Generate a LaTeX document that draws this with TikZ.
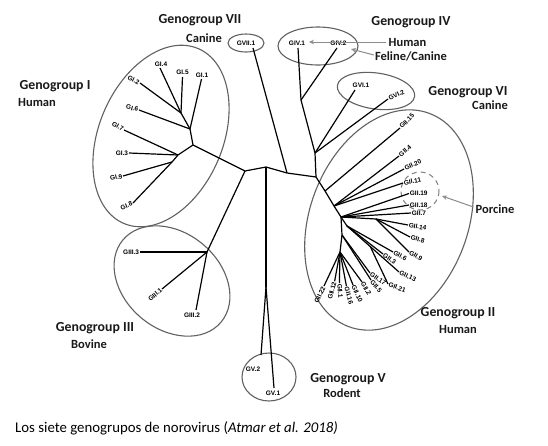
\documentclass[tikz,border=0pt]{standalone}
\usepackage{fontspec}
\setmainfont{Carlito}
\newfontfamily\labfont{Liberation Sans}
\usetikzlibrary{arrows.meta}
\begin{document}
\begin{tikzpicture}[x=1pt,y=-1pt,
  edge/.style={line width=1.2pt, black},
  grp/.style={draw=black!62, line width=1.1pt},
  leaf/.style={font=\labfont\bfseries\fontsize{6.5}{7}\selectfont, inner sep=0.7pt},
  title/.style={font=\bfseries\fontsize{13.8}{15}\selectfont, inner sep=0pt, text=black!90},
  subt/.style={font=\bfseries\fontsize{12.5}{14}\selectfont, inner sep=0pt, text=black!90},
  pointer/.style={draw=black!45, line width=1pt, -{Stealth[length=5pt,width=4.5pt]}},
  lr/.style={leaf, anchor=west},
  ll/.style={leaf, anchor=east},
]
\fill[white] (0,0) rectangle (548,445);
\useasboundingbox (0,0) rectangle (548,445);

% ---------- group outlines ----------
\draw[grp, rotate around={67:(161,136)}] (161,136) ellipse [x radius=95, y radius=62];
\draw[grp] (246,43) ellipse [x radius=18, y radius=9];
\draw[grp] (318,46) ellipse [x radius=40, y radius=19];
\draw[grp, rotate around={-8:(376,91)}] (376,91) ellipse [x radius=39, y radius=18];
\draw[grp, rotate around={69:(389,220)}] (389,220) ellipse [x radius=114, y radius=79];
\draw[grp, rotate around={-40:(172,281)}] (172,281) ellipse [x radius=64, y radius=48];
\draw[grp] (269,377) ellipse [x radius=27, y radius=24];
\draw[draw=black!50, line width=1pt, dash pattern=on 5pt off 4pt] (420,191) circle [radius=19];

% ---------- internal nodes ----------
\coordinate (A) at (245,171);
\coordinate (B) at (266,167);
\coordinate (C) at (287,173);
\coordinate (D) at (316,177);
\coordinate (E) at (315,153);
\coordinate (G4) at (301,100);
\coordinate (R1) at (193,145);
\coordinate (U1) at (190,129);
\coordinate (U2) at (181,113);
\coordinate (L1) at (178,155);
\coordinate (L2) at (172,162);
\coordinate (N3) at (207,252);
\coordinate (S5) at (266,287);
\coordinate (H1) at (325,191);
\coordinate (H3) at (334,206);
\coordinate (G0) at (341,217);
\coordinate (K1) at (376,219);
\coordinate (K2) at (347,226);
\coordinate (K4) at (370,246);
\coordinate (K3) at (342,235);
\coordinate (F) at (340,252);

% ---------- tips ----------
\coordinate (t14) at (160,68);
\coordinate (t15) at (182.5,77);
\coordinate (t11) at (201.5,79);
\coordinate (t12) at (140,83);
\coordinate (t16) at (139,110);
\coordinate (t17) at (124,130);
\coordinate (t13) at (129,153);
\coordinate (t19) at (123,176);
\coordinate (t18) at (133,203);
\coordinate (t71) at (253,48);
\coordinate (t41) at (298,48);
\coordinate (t42) at (337,48);
\coordinate (t61) at (355,90);
\coordinate (t62) at (388,99);
\coordinate (t33) at (140,252);
\coordinate (t31) at (162,289);
\coordinate (t32) at (196,310);
\coordinate (t52) at (261,355);
\coordinate (t51) at (274,388);
\coordinate (u15) at (400,128);
\coordinate (u4) at (399,156);
\coordinate (u20) at (404,169);
\coordinate (u11) at (403,183);
\coordinate (u19) at (409,193.5);
\coordinate (u18) at (409,205);
\coordinate (u7) at (411,213);
\coordinate (u14) at (408,225);
\coordinate (u8) at (410,237);
\coordinate (u9) at (409,252);
\coordinate (u6) at (393,252);
\coordinate (u3) at (383,254);
\coordinate (u13) at (399,272);
\coordinate (u21) at (388,284);
\coordinate (u17) at (370,273);
\coordinate (u5) at (371,280);
\coordinate (u2) at (362,282);
\coordinate (u10) at (353,285);
\coordinate (u16) at (346.4,286);
\coordinate (u1) at (339.4,283);
\coordinate (u12) at (334.6,281.3);
\coordinate (u22) at (324,286);

% ---------- backbone ----------
\draw[edge] (R1) -- (A) -- (B) -- (C) -- (D);
\draw[edge] (A) -- (N3);
\draw[edge] (B) -- (S5);
\draw[edge] (C) -- (t71);
\draw[edge] (D) -- (E) -- (G4);
\draw[edge] (D) -- (H1) -- (H3) -- (G0);

% GI
\draw[edge] (R1) -- (U1) -- (U2);
\draw[edge] (U2) -- (t14); \draw[edge] (U2) -- (t15); \draw[edge] (U2) -- (t12);
\draw[edge] (U1) -- (t11); \draw[edge] (U1) -- (t16);
\draw[edge] (R1) -- (L1) -- (L2);
\draw[edge] (L1) -- (t17); \draw[edge] (L1) -- (t13);
\draw[edge] (L2) -- (t19); \draw[edge] (L2) -- (t18);
% GIV, GVI
\draw[edge] (G4) -- (t41); \draw[edge] (G4) -- (t42);
\draw[edge] (E) -- (t61); \draw[edge] (E) -- (t62);
% GIII
\draw[edge] (N3) -- (t33); \draw[edge] (N3) -- (t31); \draw[edge] (N3) -- (t32);
% GV
\draw[edge] (S5) -- (t52); \draw[edge] (S5) -- (t51);
% GII
\draw[edge] (H1) -- (u15);
\draw[edge] (H3) -- (u4); \draw[edge] (H3) -- (u20); \draw[edge] (H3) -- (u11);
\draw[edge] (G0) -- (u19); \draw[edge] (G0) -- (u18); \draw[edge] (G0) -- (u7);
\draw[edge] (G0) -- (K1);
\draw[edge] (K1) -- (u14); \draw[edge] (K1) -- (u8); \draw[edge] (K1) -- (u9);
\draw[edge] (G0) -- (K2);
\draw[edge] (K2) -- (u6); \draw[edge] (K2) -- (u3); \draw[edge] (K2) -- (u13);
\draw[edge] (K4) -- (u21);
\draw[edge] (G0) -- (K3) -- (F);
\draw[edge] (K3) -- (u17); \draw[edge] (K3) -- (u5);
\foreach \t in {u2,u10,u16,u1,u12,u22} \draw[edge] (F) -- (\t);

% ---------- leaf labels ----------
\node[leaf] (lGI4) at (161,64) {GI.4};
\node[leaf] (lGI5) at (182.5,72.7) {GI.5};
\node[leaf] (lGI1) at (202,75) {GI.1};
\node[ll, rotate=-25] (lGI2) at (t12) {GI.2};
\node[ll, rotate=-15] (lGI6) at (t16) {GI.6};
\node[ll, rotate=-30] (lGI7) at (t17) {GI.7};
\node[ll] (lGI3) at (t13) {GI.3};
\node[ll, rotate=12] (lGI9) at (t19) {GI.9};
\node[ll, rotate=22] (lGI8) at (t18) {GI.8};
\node[leaf] (lGVII) at (246,43) {GVII.1};
\node[leaf] (lGIV1) at (297,43) {GIV.1};
\node[leaf] (lGIV2) at (338.5,43) {GIV.2};
\node[leaf] (lGVI1) at (361,85) {GVI.1};
\node[lr, rotate=25] (lGVI2) at (t62) {GVI.2};
\node[ll] (lGIII3) at (t33) {GIII.3};
\node[ll, rotate=40] (lGIII1) at (t31) {GIII.1};
\node[leaf] (lGIII2) at (192,315) {GIII.2};
\node[leaf] (lGV2) at (253,369) {GV.2};
\node[leaf] (lGV1) at (273,393) {GV.1};
\node[lr, rotate=45] (l15) at (u15) {GII.15};
\node[lr, rotate=40] (l4) at (u4) {GII.4};
\node[lr, rotate=25] (l20) at (u20) {GII.20};
\node[lr, rotate=10] (l11) at (u11) {GII.11};
\node[lr] (l19) at (u19) {GII.19};
\node[lr] (l18) at (u18) {GII.18};
\node[lr] (l7) at (u7) {GII.7};
\node[lr, rotate=-10] (l14) at (u14) {GII.14};
\node[lr, rotate=-15] (l8) at (u8) {GII.8};
\node[lr, rotate=-30] (l9) at (u9) {GII.9};
\node[lr, rotate=-28] (l6) at (u6) {GII.6};
\node[lr, rotate=-35] (l3) at (u3) {GII.3};
\node[lr, rotate=-25] (l13) at (u13) {GII.13};
\node[lr, rotate=-20] (l21) at (u21) {GII.21};
\node[lr, rotate=-35] (l17) at (u17) {GII.17};
\node[lr, rotate=-50] (l5) at (u5) {GII.5};
\node[lr, rotate=-60] (l2) at (u2) {GII.2};
\node[lr, rotate=-65] (l10) at (u10) {GII.10};
\node[lr, rotate=-75] (l16) at (u16) {GII.16};
\node[lr, rotate=-85] (l1) at (u1) {GII.1};
\node[ll, rotate=75] (l12) at (u12) {GII.12};
\node[ll, rotate=65] (l22) at (u22) {GII.22};

% ---------- group titles ----------
\node[title] (tVII) at (200,20) {Genogroup VII};
\node[subt] (sVII) at (204,38) {Canine};
\node[title] (tIV) at (411,22) {Genogroup IV};
\node[subt] (sIVa) at (407.5,42) {Human};
\node[subt] (sIVb) at (411,56) {Feline/Canine};
\node[title] (tVI) at (468,92) {Genogroup VI};
\node[subt, anchor=east] (sVI) at (508,105) {Canine};
\node[title] (tI) at (55,86) {Genogroup I};
\node[subt, anchor=west] (sI) at (18,102) {Human};
\node[title] (tIII) at (95,328) {Genogroup III};
\node[subt] (sIII) at (89,344) {Bovine};
\node[title] (tII) at (458,313) {Genogroup II};
\node[subt] (sII) at (458,329) {Human};
\node[title] (tV) at (348,379) {Genogroup V};
\node[subt] (sV) at (342,393) {Rodent};
\node[subt] (por) at (495,209) {Porcine};

\coordinate (pa) at (309,42);
\coordinate (pb) at (351,49);
\coordinate (pc) at (442,196);
\draw[pointer] (sIVa.west) ++(-2,0) -- (pa);
\draw[pointer] (sIVb.west) ++(-1,-1) -- (pb);
\draw[pointer] (por.west) ++(-2,-2) -- (pc);

% ---------- caption ----------
\node[anchor=west, font=\fontsize{14.8}{17}\selectfont, inner sep=0pt] (cap) at (15,428)
  {Los siete genogrupos de norovirus (\textit{Atmar et al. 2018)}};
\end{tikzpicture}
\end{document}
